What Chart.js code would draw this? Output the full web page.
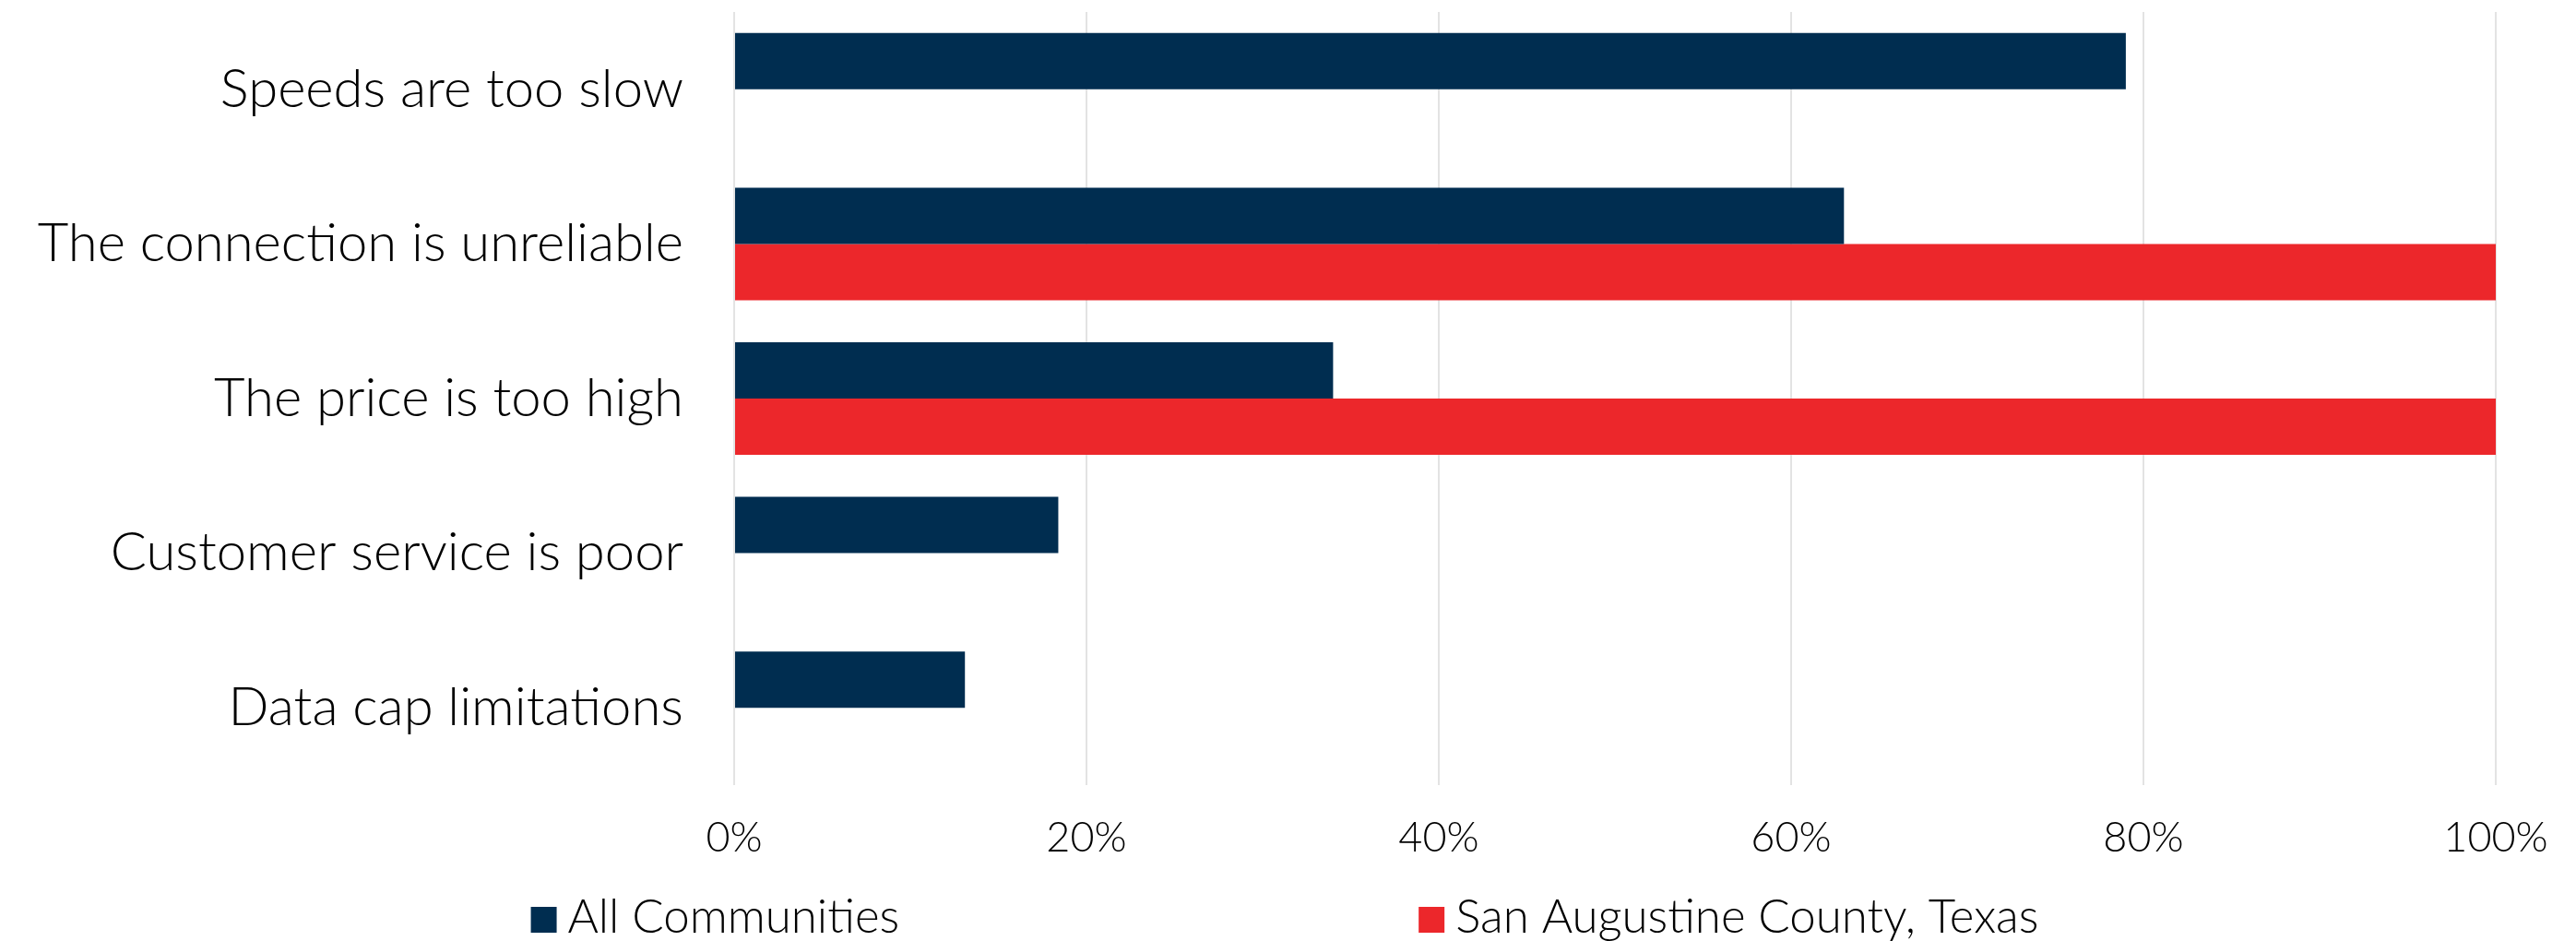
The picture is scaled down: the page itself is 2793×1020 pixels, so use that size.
<!DOCTYPE html>
<html>
<head>
<meta charset="utf-8">
<script src="https://cdn.jsdelivr.net/npm/chart.js@4.4.1/dist/chart.umd.min.js"></script>
<style>
  html, body { margin: 0; padding: 0; background: #fff; }
  #wrap { width: 2793px; height: 1020px; position: relative; }
</style>
</head>
<body>
<div id="wrap"><canvas id="chart"></canvas></div>
<script>
const reasons = [
  "Speeds are too slow",
  "The connection is unreliable",
  "The price is too high",
  "Customer service is poor",
  "Data cap limitations"
];
const allCommunities = [79, 63, 34, 18.4, 13.1];
const sanAugustine = [null, 100, 100, null, null];
const xTicks = [0, 20, 40, 60, 80, 100];

const NAVY = "#002d50";
const RED = "#ec272b";
const FONT = "Lato, 'Open Sans', sans-serif";

// legend drawn underneath the axis, two items spread wide apart
const spreadLegend = {
  id: "spreadLegend",
  afterDraw(chart) {
    const ctx = chart.ctx;
    const box = 28, gapText = 12, gapItems = 563;
    ctx.save();
    ctx.font = "300 51px " + FONT;
    ctx.fillStyle = "#000";
    ctx.textBaseline = "alphabetic";
    const items = chart.data.datasets.map(ds => ({
      text: ds.label, color: ds.backgroundColor,
      w: box + gapText + ctx.measureText(ds.label).width
    }));
    const total = items.reduce((s, it) => s + it.w, 0) + gapItems * (items.length - 1);
    let x = 1393 - total / 2;
    items.forEach(it => {
      ctx.fillStyle = it.color;
      ctx.fillRect(x, 983, box, box);
      ctx.fillStyle = "#000";
      ctx.fillText(it.text, x + box + gapText, 1011);
      x += it.w + gapItems;
    });
    ctx.restore();
  }
};

new Chart(document.getElementById("chart"), {
  type: "bar",
  data: {
    labels: reasons,
    datasets: [
      { label: "All Communities", data: allCommunities, backgroundColor: NAVY },
      { label: "San Augustine County, Texas", data: sanAugustine, backgroundColor: RED }
    ]
  },
  options: {
    indexAxis: "y",
    responsive: true,
    maintainAspectRatio: false,
    animation: false,
    datasets: { bar: { categoryPercentage: 0.728, barPercentage: 1 } },
    layout: { padding: { top: 13, right: 87, left: 0, bottom: 0 } },
    plugins: { legend: { display: false }, tooltip: { enabled: false } },
    scales: {
      x: {
        min: 0, max: 100,
        afterBuildTicks: s => { s.ticks = xTicks.map(v => ({ value: v })); },
        afterFit: s => { s.height = 169; s.paddingLeft = 0; s.paddingRight = 0; },
        grid: { color: "#e3e3e3", lineWidth: 2, drawTicks: false },
        border: { display: false },
        ticks: {
          padding: 30,
          color: "#000",
          font: { family: FONT, size: 45, weight: "300" },
          callback: v => v + "%"
        }
      },
      y: {
        afterFit: s => { s.width = 796; s.paddingTop = 0; s.paddingBottom = 0; },
        grid: { display: false, drawTicks: false },
        border: { display: false },
        ticks: {
          padding: 55,
          color: "#000",
          font: { family: FONT, size: 58, weight: "300" }
        }
      }
    }
  },
  plugins: [spreadLegend]
});
</script>
</body>
</html>
